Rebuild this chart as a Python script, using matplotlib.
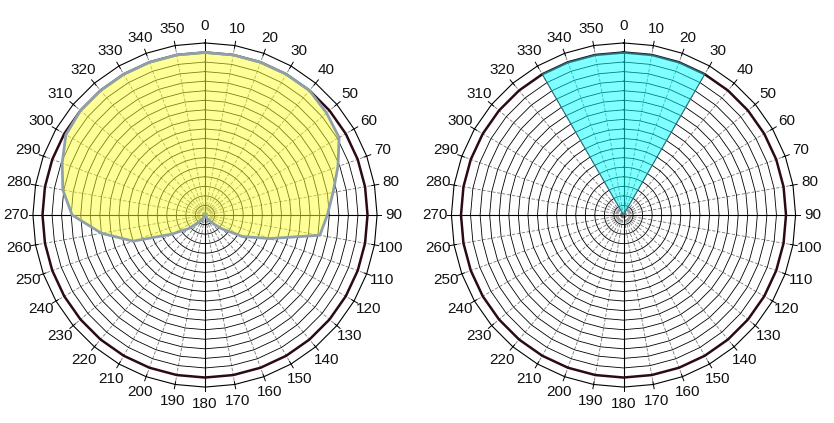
import numpy as np
import matplotlib
matplotlib.use("Agg")
import matplotlib.pyplot as plt

plt.rcParams['font.family'] = ['Liberation Sans', 'DejaVu Sans']

# ---- data ----
angles = list(range(0, 360, 10))
angle_labels = [str(a) for a in angles]
left_values = [17, 17, 17, 17, 17, 16.6, 16.2, 14.8, 13.6, 12.8,
               12.2, 7.2, 4.5, 2.2, 1.0, 0.4, 0.1, 0.0, 0.0, 0.0,
               0.1, 0.4, 1.0, 2.2, 4.0, 8.0, 11.0, 13.9, 15.1, 15.9,
               16.8, 17, 17, 17, 17, 17]
right_values = [17, 17, 17, 17, 0, 0, 0, 0, 0, 0,
                0, 0, 0, 0, 0, 0, 0, 0, 0, 0,
                0, 0, 0, 0, 0, 0, 0, 0, 0, 0,
                0, 0, 0, 17, 17, 17]
max_series = [17] * 36
ring_values = list(range(1, 18))
axis_max = 18

W, H = 834, 423
DPI = 100
fig = plt.figure(figsize=(W / DPI, H / DPI), dpi=DPI)

unit = 9.56
half = 21.0


def xy(vals):
    th = np.deg2rad(np.array(angles, dtype=float))
    v = np.array(vals, dtype=float)
    x = v * np.sin(th)
    y = v * np.cos(th)
    return np.append(x, x[0]), np.append(y, y[0])


def make_axes(cx, cy):
    R = half * unit
    ax = fig.add_axes([(cx - R) / W, (H - cy - R) / H, 2 * R / W, 2 * R / H])
    ax.set_xlim(-half, half)
    ax.set_ylim(-half, half)
    ax.set_aspect('equal')
    ax.axis('off')
    return ax


def draw_grid(ax):
    th = np.deg2rad(np.array(angles, dtype=float))
    # spokes
    for a, t in zip(angles, th):
        x1, y1 = axis_max * np.sin(t), axis_max * np.cos(t)
        if a % 90 == 0:
            ax.plot([0, x1], [0, y1], color='black', lw=0.8, zorder=1)
        else:
            ax.plot([0, x1], [0, y1], color='#777777', lw=0.6,
                    dashes=(4, 2), zorder=1)
        # ticks on outer ring
        ax.plot([(axis_max - 0.3) * np.sin(t), (axis_max + 0.45) * np.sin(t)],
                [(axis_max - 0.3) * np.cos(t), (axis_max + 0.45) * np.cos(t)],
                color='black', lw=0.7, zorder=1)
    # rings
    for r in ring_values:
        x, y = xy([r] * 36)
        ax.plot(x, y, color='black', lw=0.6, zorder=1)
    x, y = xy([axis_max] * 36)
    ax.plot(x, y, color='black', lw=0.8, zorder=1)
    # labels
    for a, lab, t in zip(angles, angle_labels, th):
        rl = 19.75
        ax.text(rl * np.sin(t), rl * np.cos(t), lab, ha='center', va='center',
                fontsize=11, color='#111111', clip_on=False)
    # max series
    x, y = xy(max_series)
    ax.plot(x, y, color='#2B0A14', lw=1.8, zorder=2, solid_joinstyle='miter')


# left chart
axL = make_axes(205, 215)
draw_grid(axL)
x, y = xy(left_values)
axL.fill(x, y, color='#FFFF33', alpha=0.5, lw=0, zorder=3)
axL.plot(x, y, color='#8FA0AA', lw=2.0, zorder=4)

# right chart
axR = make_axes(623.5, 215)
draw_grid(axR)
x, y = xy(right_values)
axR.fill(x, y, color='#00FFFF', alpha=0.5, lw=0, zorder=3)
axR.plot(x, y, color='#2E6E78', lw=0.8, zorder=4)

fig.savefig('out.png', dpi=DPI)
